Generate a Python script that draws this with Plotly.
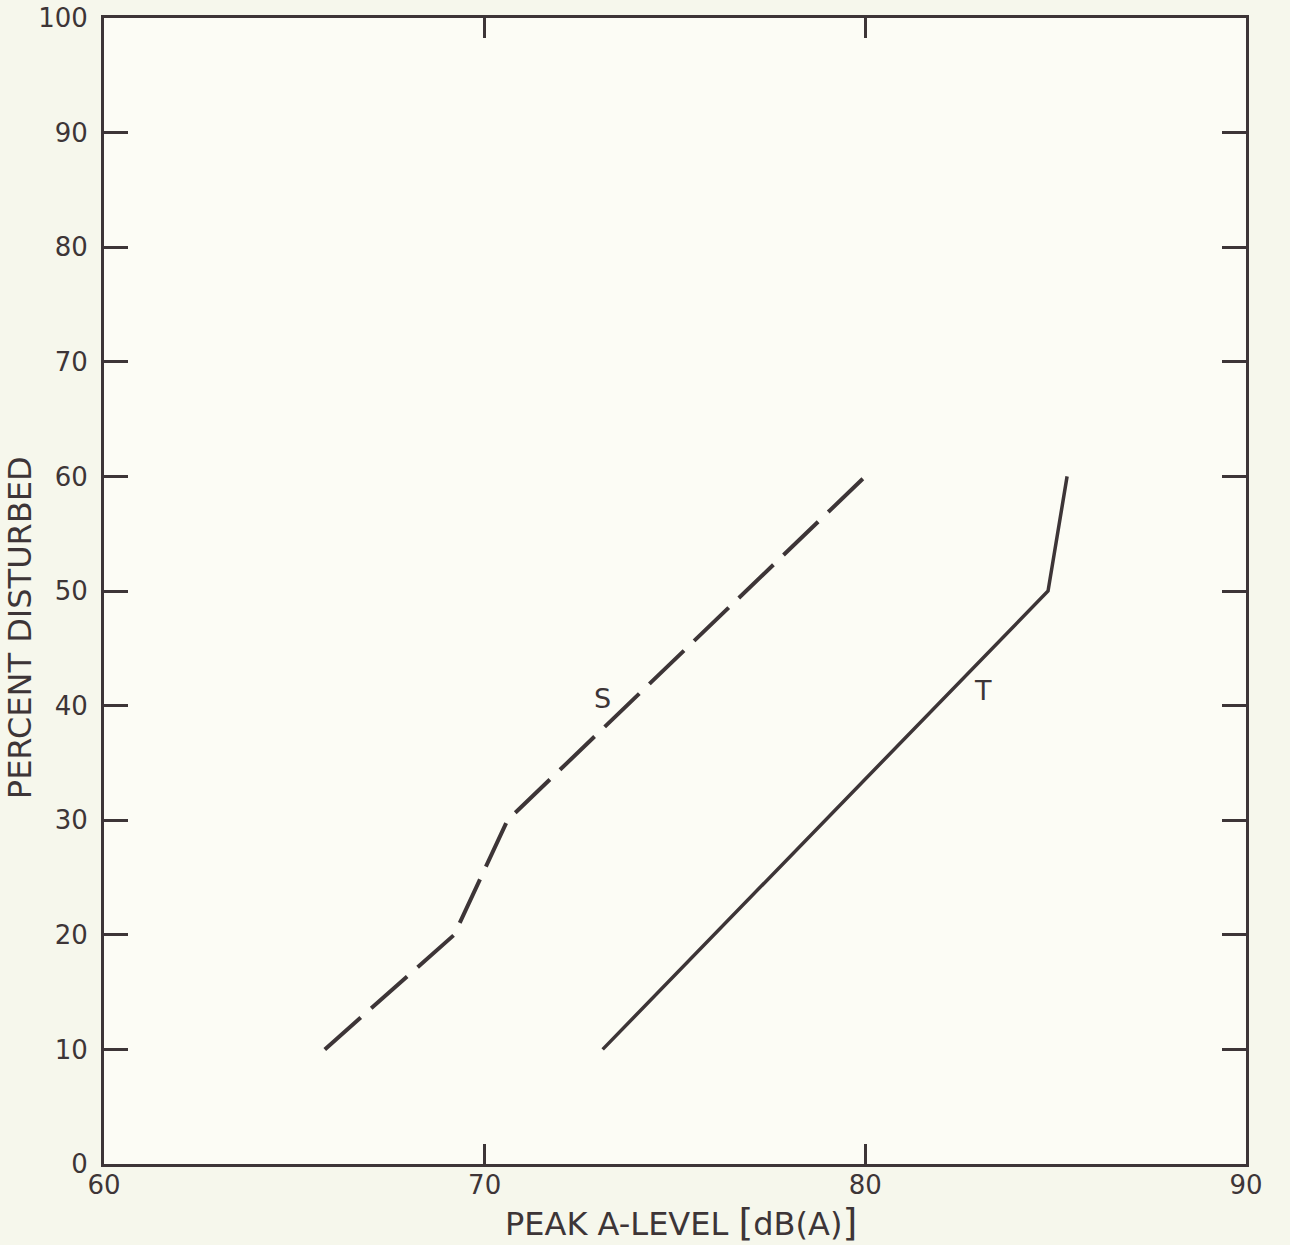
import plotly.graph_objects as go

# Data
s_x = [65.8, 69.2, 70.6, 80.0]
s_y = [10, 20, 30, 60]
t_x = [73.1, 84.8, 85.3]
t_y = [10, 50, 60]

x_ticks = [60, 70, 80, 90]
y_ticks = [0, 10, 20, 30, 40, 50, 60, 70, 80, 90, 100]

INK = "#3d3537"
FONT = "DejaVu Sans"

fig = go.Figure()
fig.add_trace(go.Scatter(x=s_x, y=s_y, mode="lines",
                         line=dict(color=INK, width=4, dash="48px,14px"),
                         showlegend=False, hoverinfo="skip"))
fig.add_trace(go.Scatter(x=t_x, y=t_y, mode="lines",
                         line=dict(color=INK, width=3.5),
                         showlegend=False, hoverinfo="skip"))

fig.add_annotation(x=73.1, y=40.6, text="S", showarrow=False,
                   font=dict(family=FONT, size=27, color=INK))
fig.add_annotation(x=83.1, y=41.3, text="T", showarrow=False,
                   font=dict(family=FONT, size=27, color=INK))

# axis titles as annotations for precise placement
fig.add_annotation(xref="paper", yref="paper", x=0.505, y=-0.051,
                   text="PEAK A-LEVEL <span style='font-size:38px'>[</span>dB(A)<span style='font-size:38px'>]</span>",
                   showarrow=False, xanchor="center", yanchor="middle",
                   font=dict(family=FONT, size=32, color=INK))
fig.add_annotation(xref="paper", yref="paper", x=-0.074, y=0.468,
                   text="PERCENT DISTURBED", textangle=-90,
                   showarrow=False, xanchor="center", yanchor="middle",
                   font=dict(family=FONT, size=32, color=INK))

axis_common = dict(showline=True, linewidth=3, linecolor=INK, mirror="ticks",
                   ticks="inside", tickwidth=2.5, tickcolor=INK,
                   showgrid=False, zeroline=False, automargin=False)

fig.update_xaxes(range=[60, 90], tickvals=x_ticks, ticklen=20, ticklabelstandoff=-4,
                 tickfont=dict(family=FONT, size=26, color=INK), **axis_common)
fig.update_yaxes(range=[0, 100], tickvals=y_ticks, ticklen=24, ticklabelstandoff=8,
                 tickfont=dict(family=FONT, size=26, color=INK), **axis_common)

fig.update_layout(width=1290, height=1245,
                  margin=dict(l=104, r=44, t=18, b=81),
                  paper_bgcolor="#f6f7ec", plot_bgcolor="#fcfcf5",
                  font=dict(family=FONT, color=INK))

fig.write_html("out.html", config={"displayModeBar": False},
               post_script="document.body.style.margin='0';"
                           "document.body.style.background='#f6f7ec';"
                           "document.body.style.overflow='hidden';")
